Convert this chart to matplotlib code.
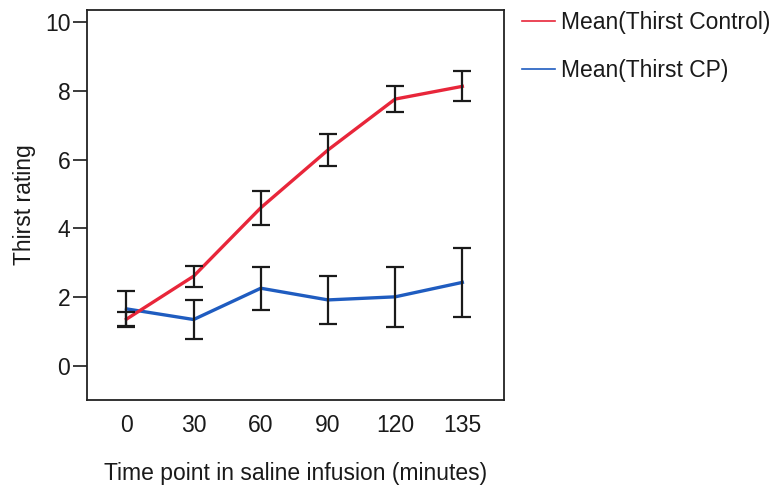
import matplotlib
matplotlib.use("Agg")
import matplotlib.pyplot as plt
from matplotlib.lines import Line2D
import numpy as np

plt.rcParams['font.family'] = ['Liberation Sans', 'DejaVu Sans']

time_labels = ["0", "30", "60", "90", "120", "135"]
control_mean = [1.36, 2.61, 4.60, 6.28, 7.76, 8.13]
control_err = [0.22, 0.30, 0.50, 0.46, 0.38, 0.44]
cp_mean = [1.66, 1.35, 2.26, 1.92, 2.01, 2.43]
cp_err = [0.51, 0.56, 0.62, 0.69, 0.87, 1.00]

x = np.arange(len(time_labels))

FS = 16.5

fig = plt.figure(figsize=(7.71, 4.88), dpi=100)
ax = fig.add_axes([87/771, 1-400/488, (504-87)/771, (400-10)/488])

red = "#e8263a"
blue = "#1f5cc0"

ax.plot(x, cp_mean, color=blue, lw=2.4, zorder=2)
ax.plot(x, control_mean, color=red, lw=2.4, zorder=3)
ax.errorbar(x, cp_mean, yerr=cp_err, fmt='none', ecolor='#1a1a1a', elinewidth=1.6, capsize=6.5, capthick=1.6, zorder=4)
ax.errorbar(x, control_mean, yerr=control_err, fmt='none', ecolor='#1a1a1a', elinewidth=1.6, capsize=6.5, capthick=1.6, zorder=4)

ax.set_xlim(-0.587, 5.62)
ax.set_ylim(-0.99, 10.35)
ax.set_xticks(x)
ax.set_xticklabels(time_labels)
ax.set_yticks([0, 2, 4, 6, 8, 10])
ax.tick_params(axis='x', length=0, pad=10, labelsize=FS, colors='#1a1a1a')
ax.tick_params(axis='y', length=10, width=1.2, pad=2, labelsize=FS, colors='#1a1a1a')
for s in ax.spines.values():
    s.set_linewidth(1.3)
    s.set_color('#222222')

ax.set_xlabel("Time point in saline infusion (minutes)", fontsize=FS, labelpad=18, color='#1a1a1a')
ax.set_ylabel("Thirst rating", fontsize=FS, labelpad=6.5, color='#1a1a1a')

handles = [Line2D([0], [0], color=red, lw=1.2), Line2D([0], [0], color=blue, lw=1.2)]
fig.legend(handles, ["Mean(Thirst Control)", "Mean(Thirst CP)"], loc='upper left',
           bbox_to_anchor=(522/771, 1-11/488), frameon=False, fontsize=FS,
           handlelength=1.44, handletextpad=0.25, labelspacing=1.1, borderaxespad=0, borderpad=0,
           labelcolor='#1a1a1a')

fig.savefig("out.png", dpi=100)
